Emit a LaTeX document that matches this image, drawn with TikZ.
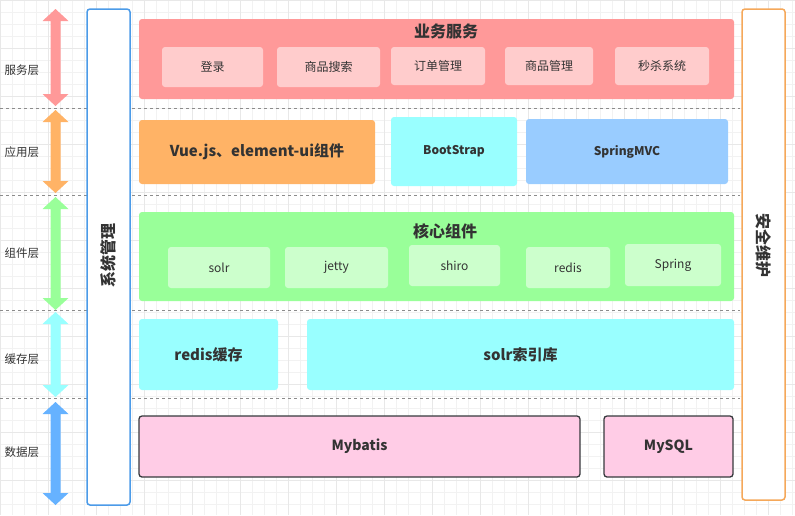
\documentclass[tikz,border=0pt]{standalone}
\usepackage{fontspec}
\setmainfont{Noto Sans CJK SC}
\definecolor{txt}{HTML}{333333}
\definecolor{pinkA}{HTML}{FF9999}
\definecolor{pinkB}{HTML}{FFCCCC}
\definecolor{orangeA}{HTML}{FFB366}
\definecolor{cyanA}{HTML}{99FFFF}
\definecolor{blueA}{HTML}{99CCFF}
\definecolor{greenA}{HTML}{99FF99}
\definecolor{greenB}{HTML}{CCFFCC}
\definecolor{roseA}{HTML}{FFCCE6}
\definecolor{arrowblue}{HTML}{66B2FF}
\definecolor{sysblue}{HTML}{4C9BE8}
\definecolor{secorange}{HTML}{F5A85A}
\definecolor{darkline}{HTML}{36393D}
\newcommand\mydblarrow[4]{%
  \fill[#4] (#1,#2) -- (#1+13,#2+12) -- (#1+5,#2+12) -- (#1+5,#3-12) -- (#1+13,#3-12)
    -- (#1,#3) -- (#1-13,#3-12) -- (#1-5,#3-12) -- (#1-5,#2+12) -- (#1-13,#2+12) -- cycle;}
\tikzset{
  box/.style={rectangle, rounded corners=3pt, inner sep=0pt, text=txt, draw=none},
  sub/.style={box, font=\fontsize{12}{14}\selectfont},
  bigt/.style={text=txt, font=\fontsize{16}{18}\selectfont\bfseries},
  midt/.style={box, font=\fontsize{15}{18}\selectfont\bfseries},
  smallb/.style={box, font=\fontsize{12}{14}\selectfont\bfseries},
  layer/.style={text=txt, font=\fontsize{11.5}{13}\selectfont},
  sep/.style={draw=gray!90, dash pattern=on 3pt off 3pt, line width=0.6pt},
  side/.style={rectangle, rounded corners=3pt, fill=white, line width=1.5pt, inner sep=0pt},
}
\begin{document}
\begin{tikzpicture}[x=1pt,y=-1pt]
\useasboundingbox (0,0) rectangle (795,515);
% background grid
\foreach \gx in {0,12,...,795} \draw[color=black!5, line width=0.4pt] (\gx,0) -- (\gx,515);
\foreach \gy in {0,12,...,515} \draw[color=black!5, line width=0.4pt] (0,\gy) -- (795,\gy);
\foreach \gx in {0,48,...,795} \draw[color=black!9, line width=0.5pt] (\gx,0) -- (\gx,515);
\foreach \gy in {0,48,...,515} \draw[color=black!9, line width=0.5pt] (0,\gy) -- (795,\gy);

% separators
\coordinate (s1l) at (0,108); \coordinate (s1r) at (740,108);
\coordinate (s2l) at (0,195); \coordinate (s2r) at (740,195);
\coordinate (s3l) at (0,310); \coordinate (s3r) at (740,310);
\coordinate (s4l) at (0,398); \coordinate (s4r) at (740,398);
\draw[sep] (s1l) -- (s1r);
\draw[sep] (s2l) -- (s2r);
\draw[sep] (s3l) -- (s3r);
\draw[sep] (s4l) -- (s4r);

% layer labels
\node[layer] (l1) at (22,70) {服务层};
\node[layer] (l2) at (22,152) {应用层};
\node[layer] (l3) at (22,253) {组件层};
\node[layer] (l4) at (22,359) {缓存层};
\node[layer] (l5) at (22,452) {数据层};

% double arrows
\mydblarrow{55.5}{9}{106}{pinkA}
\mydblarrow{55.5}{110}{193}{orangeA}
\mydblarrow{55.5}{197}{310}{greenA}
\mydblarrow{55.5}{312}{397}{cyanA}
\mydblarrow{55.5}{402}{505}{arrowblue}

% side boxes
\node[side, draw=sysblue, minimum width=43pt, minimum height=496pt] (sys) at (108.5,257) {};
\node[rotate=90, bigt] (syst) at (108.5,255) {系统管理};
\node[side, draw=secorange, minimum width=43pt, minimum height=491pt] (sec) at (763.5,254.5) {};
\node[rotate=-90, bigt] (sect) at (763.5,245) {安全维护};

% business layer
\node[box, fill=pinkA, minimum width=595pt, minimum height=80pt] (biz) at (436.5,59) {};
\node[bigt] (bizt) at (446,31) {业务服务};
\node[sub, fill=pinkB, minimum width=101pt, minimum height=40pt] (b1) at (212.5,67) {登录};
\node[sub, fill=pinkB, minimum width=103pt, minimum height=40pt] (b2) at (328.5,67) {商品搜索};
\node[sub, fill=pinkB, minimum width=94pt, minimum height=38pt] (b3) at (438,66) {订单管理};
\node[sub, fill=pinkB, minimum width=88pt, minimum height=38pt] (b4) at (549,66) {商品管理};
\node[sub, fill=pinkB, minimum width=94pt, minimum height=38pt] (b5) at (662,66) {秒杀系统};

% application layer
\node[midt, fill=orangeA, minimum width=236pt, minimum height=64pt] (vue) at (257,152) {Vue.js、element-ui组件};
\node[smallb, fill=cyanA, minimum width=126pt, minimum height=69pt] (boot) at (454,151.5) {BootStrap};
\node[smallb, fill=blueA, minimum width=202pt, minimum height=65pt] (mvc) at (627,151.5) {SpringMVC};

% component layer
\node[box, fill=greenA, minimum width=595pt, minimum height=89pt] (core) at (436.5,256.5) {};
\node[bigt] (coret) at (445,231) {核心组件};
\node[sub, fill=greenB, minimum width=102pt, minimum height=41pt] (c1) at (219,267.5) {solr};
\node[sub, fill=greenB, minimum width=103pt, minimum height=41pt] (c2) at (336.5,267.5) {jetty};
\node[sub, fill=greenB, minimum width=91pt, minimum height=41pt] (c3) at (454.5,265.5) {shiro};
\node[sub, fill=greenB, minimum width=84pt, minimum height=41pt] (c4) at (568,267.5) {redis};
\node[sub, fill=greenB, minimum width=96pt, minimum height=42pt] (c5) at (673,265) {Spring};

% cache layer
\node[midt, fill=cyanA, minimum width=139pt, minimum height=71pt] (rc) at (208.5,354.5) {redis缓存};
\node[midt, fill=cyanA, minimum width=427pt, minimum height=71pt] (sc) at (520.5,354.5) {solr索引库};

% data layer
\node[box, fill=roseA, draw=darkline, line width=1.3pt, font=\fontsize{14}{16}\selectfont\bfseries,
  minimum width=441pt, minimum height=61pt] (mb) at (359.5,446.5) {Mybatis};
\node[box, fill=roseA, draw=darkline, line width=1.3pt, font=\fontsize{14}{16}\selectfont\bfseries,
  minimum width=129pt, minimum height=61pt] (my) at (668.5,446.5) {MySQL};
\end{tikzpicture}
\end{document}
